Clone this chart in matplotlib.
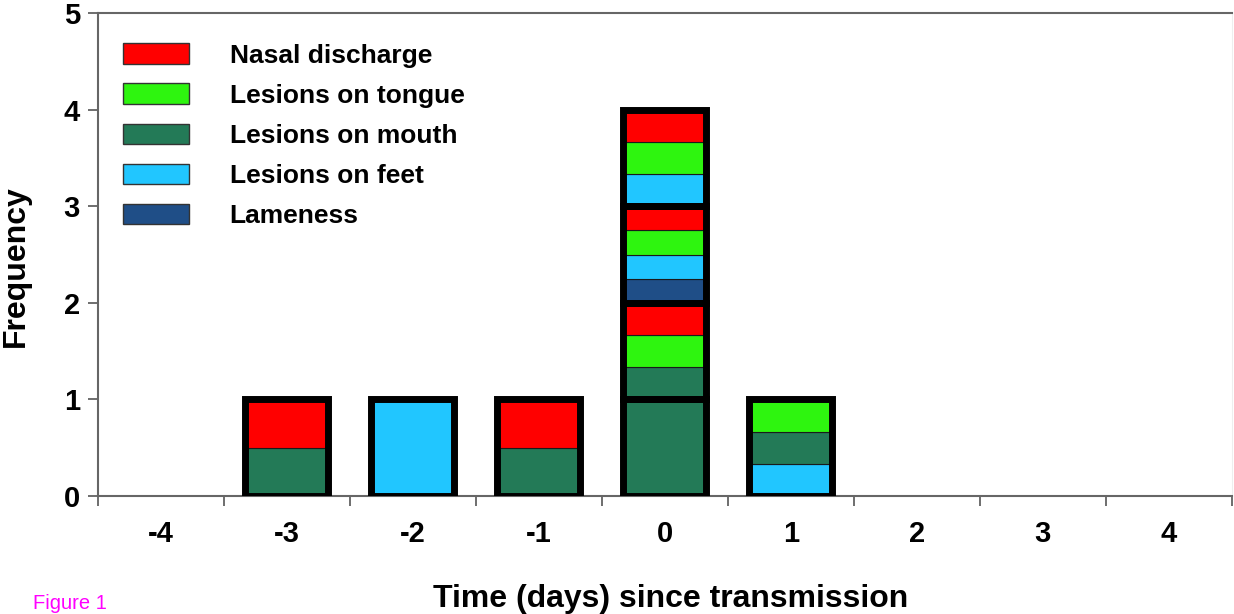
import numpy as np
import matplotlib
matplotlib.use("Agg")
import matplotlib.pyplot as plt
from matplotlib.patches import Patch

plt.rcParams['font.family'] = ['Liberation Sans', 'DejaVu Sans']

# Days relative to transmission
days = [-4, -3, -2, -1, 0, 1, 2, 3, 4]

# Symptom names and colours
symptoms = ["Nasal discharge", "Lesions on tongue", "Lesions on mouth",
            "Lesions on feet", "Lameness"]
colors = ["#ff0000", "#2ef50f", "#237a57", "#21c6ff", "#1f4e87"]

# Each animal is one unit of frequency; its symptoms listed bottom to top
cases = {
    -3: [["Lesions on mouth", "Nasal discharge"]],
    -2: [["Lesions on feet"]],
    -1: [["Lesions on mouth", "Nasal discharge"]],
    0: [["Lesions on mouth"],
        ["Lesions on mouth", "Lesions on tongue", "Nasal discharge"],
        ["Lameness", "Lesions on feet", "Lesions on tongue", "Nasal discharge"],
        ["Lesions on feet", "Lesions on tongue", "Nasal discharge"]],
    1: [["Lesions on feet", "Lesions on mouth", "Lesions on tongue"]],
}

bar_w = 0.66

fig = plt.figure(figsize=(12.34, 6.14), dpi=100)
ax = fig.add_axes([0.0794, 0.192, 0.9186, 0.787])

for d in days:
    animals = cases.get(d, [])
    base = 0
    for animal in animals:
        h = 1.0 / len(animal)
        for k, s in enumerate(animal):
            ax.bar(d, h, bottom=base + k * h, width=bar_w,
                   color=colors[symptoms.index(s)], edgecolor="#1a1a1a",
                   linewidth=0.8, zorder=2)
        # thick outline around each animal
        ax.bar(d, 1, bottom=base, width=bar_w, facecolor="none",
               edgecolor="black", linewidth=5, zorder=3)
        base += 1

ax.set_xlim(-4.5, 4.5)
ax.set_ylim(0, 5)

ax.set_xticks(days)
ax.set_xticklabels([str(d) for d in days])
ax.set_xticks(np.arange(-4.5, 5.0, 1.0), minor=True)
ax.tick_params(axis="x", which="major", length=0, pad=17, labelsize=21)
ax.tick_params(axis="x", which="minor", length=7, color="#555555", width=1.2)
ax.set_yticks(range(0, 6))
ax.tick_params(axis="y", length=7, color="#555555", width=1.2, labelsize=21, pad=6)
for lab in ax.get_xticklabels() + ax.get_yticklabels():
    lab.set_fontweight("bold")

for side in ["left", "bottom", "top"]:
    ax.spines[side].set_color("#666666")
    ax.spines[side].set_linewidth(1.5)
ax.spines["right"].set_color("#eeeeee")

ax.set_xlabel("Time (days) since transmission", fontsize=23, fontweight="bold")
ax.set_ylabel("Frequency", fontsize=23, fontweight="bold")
ax.xaxis.set_label_coords(0.505, -0.182)
ax.yaxis.set_label_coords(-0.059, 0.475)

handles = [Patch(facecolor=c, edgecolor="#333333", linewidth=1) for c in colors]
ax.legend(handles, symptoms, loc="upper left", bbox_to_anchor=(0.022, 0.937),
          frameon=False, prop={"weight": "bold", "size": 19},
          handlelength=2.5, handleheight=0.8, handletextpad=1.54,
          labelspacing=0.6, borderpad=0, borderaxespad=0)

fig.text(0.027, 0.008, "Figure 1", color="#ff00ff", fontsize=14.5)

fig.savefig("out.png", dpi=100)
